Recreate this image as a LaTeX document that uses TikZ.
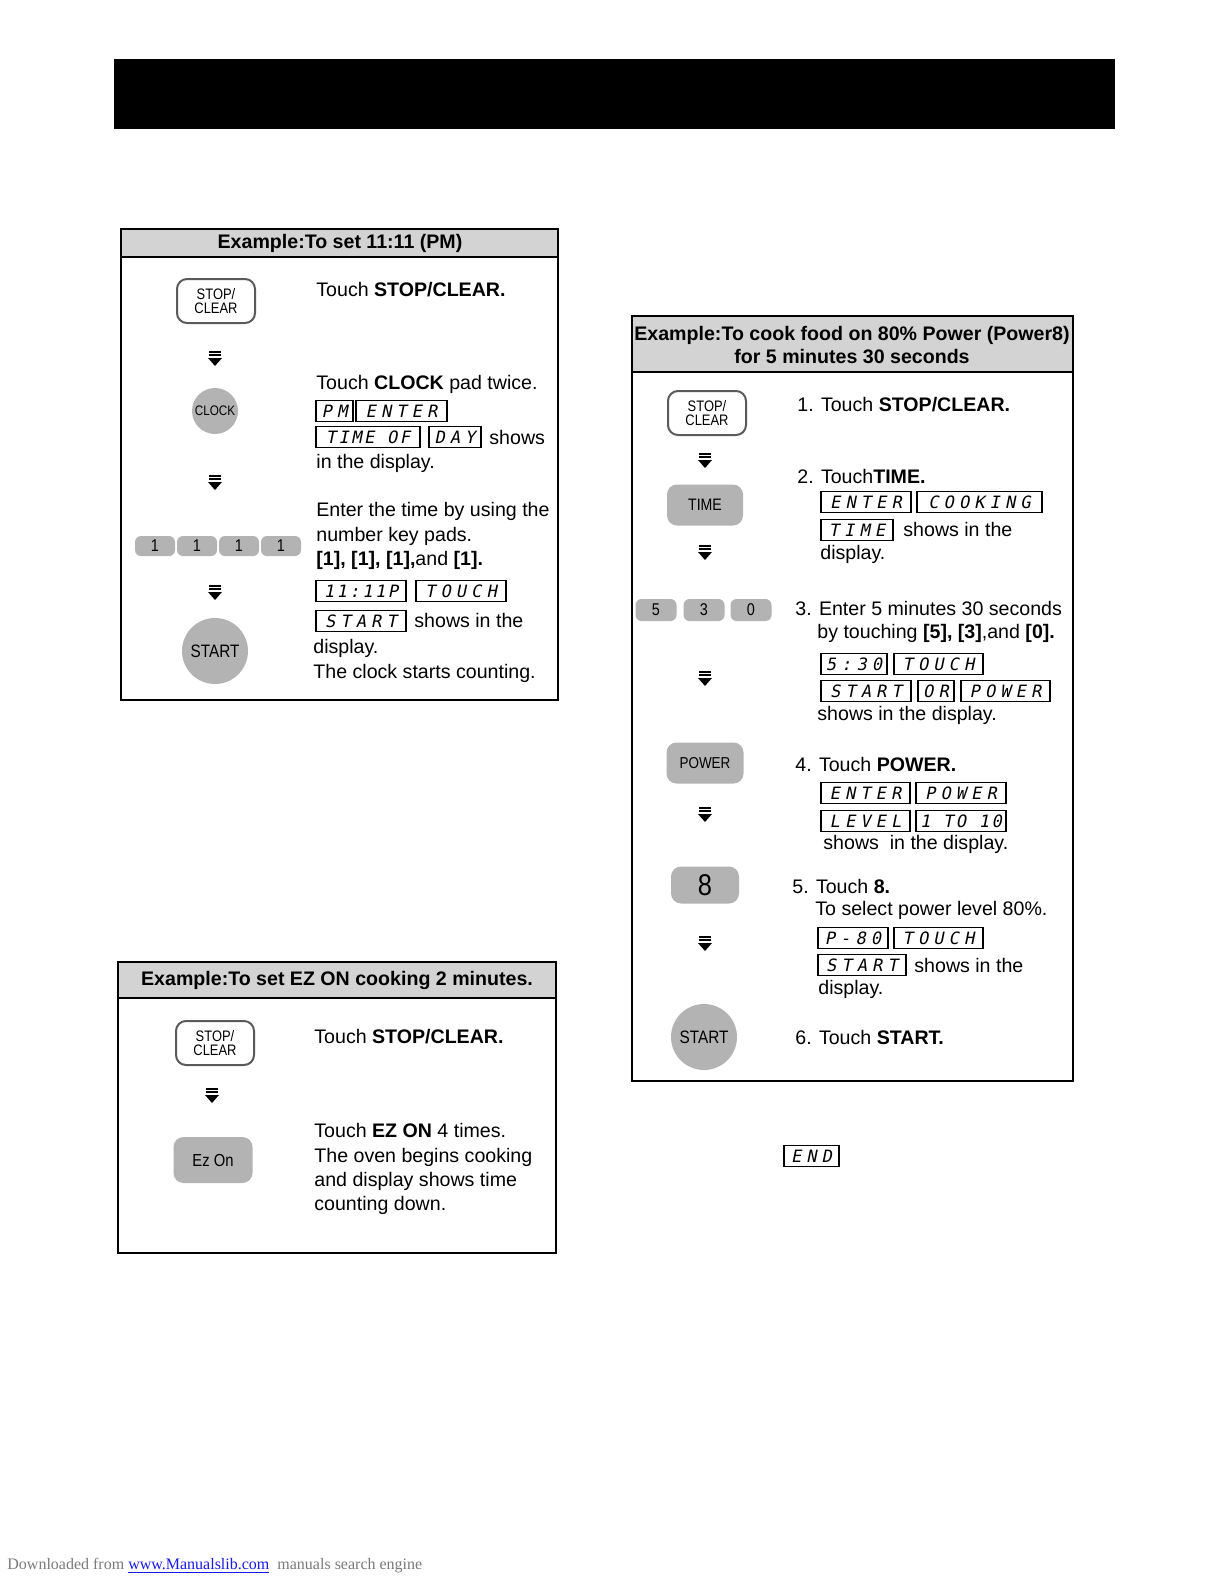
\documentclass[tikz,border=0pt]{standalone}
\usepackage{fontspec}
\setmainfont{Liberation Sans}
\newfontfamily\keyfont[FakeStretch=0.85]{Liberation Sans}
\newfontfamily\lcdfont[FakeSlant=0.2,LetterSpace=30]{DejaVu Sans Mono}
\newfontfamily\lcdtight[FakeSlant=0.2,LetterSpace=15]{DejaVu Sans Mono}
\newfontfamily\footfont{Liberation Serif}
\usepackage{xcolor}
\usetikzlibrary{positioning, shapes.geometric, calc}
\definecolor{keygray}{HTML}{B3B3B3}
\definecolor{headgray}{HTML}{D3D3D3}
\definecolor{keyedge}{HTML}{5A5A5A}
\definecolor{footgray}{HTML}{7A7A7A}
\definecolor{linkblue}{HTML}{1A1AE6}

\begin{document}
\begin{tikzpicture}[
  x=0.5pt, y=-0.5pt,
  font=\fontsize{9.8}{12.2}\selectfont,
  txt/.style={anchor=west, inner sep=0pt},
  para/.style={anchor=north west, inner sep=0pt, align=left},
  title/.style={font=\fontsize{9.8}{11.6}\selectfont\bfseries, align=center, inner sep=0pt},
  lcd/.style={draw, line width=0.8pt, inner sep=0pt, minimum height=10.5pt,
              font=\fontsize{8.5}{8.5}\selectfont},
  stopkey/.style={draw=keyedge, line width=1pt, fill=white, rounded corners=5pt,
                  minimum width=39pt, minimum height=22pt, inner sep=0pt, align=center,
                  font={\keyfont\fontsize{7.6}{7.4}\selectfont}},
  padkey/.style={fill=keygray, rounded corners=5pt, inner sep=0pt,
                 font={\keyfont\fontsize{8.5}{8.5}\selectfont}},
  roundkey/.style={circle, fill=keygray, inner sep=0pt,
                   font={\keyfont\fontsize{8.5}{8.5}\selectfont}},
]
\useasboundingbox (0,0) rectangle (1225,1585);
\fill[white] (0,0) rectangle (1225,1585);

% Page header bar
\fill[black] (114,59) rectangle (1115,129);

% Example boxes
\draw[line width=0.6pt] (121,229) rectangle (558,700);
\draw[line width=0.6pt, fill=headgray] (121,229) rectangle (558,257);
\draw[line width=0.6pt] (632,316) rectangle (1073,1081);
\draw[line width=0.6pt, fill=headgray] (632,316) rectangle (1073,372);
\draw[line width=0.6pt] (118,962) rectangle (556,1253);
\draw[line width=0.6pt, fill=headgray] (118,962) rectangle (556,998);
\node[title] (headA) at (340,243) {Example:To set 11:11 (PM)};
\node[title] (headB) at (852,345) {Example:To cook food on 80\% Power (Power8)\\for 5 minutes 30 seconds};
\node[title] (headC) at (337,980) {Example:To set EZ ON cooking 2 minutes.};

% Keys
\node[stopkey] (stopA) at (216,301) {STOP/\\CLEAR};
\node[roundkey, minimum size=23pt, font={\keyfont\fontsize{6.9}{6.9}\selectfont}] (clockA) at (215,411) {CLOCK};
\foreach \x [count=\i] in {155,197,239,281}{
  \node[padkey, rounded corners=3pt, minimum width=20pt, minimum height=10pt] (oneA\i) at (\x,546) {1};
}
\node[roundkey, minimum size=33pt, font={\keyfont\fontsize{9}{9}\selectfont}] (startA) at (215,651) {START};

\node[stopkey] (stopB) at (707,413) {STOP/\\CLEAR};
\node[padkey, minimum width=38pt, minimum height=20.5pt, font={\keyfont\fontsize{8.3}{8.3}\selectfont}] (timeB) at (705,505) {TIME};
\foreach \x/\n [count=\i] in {656/5, 704/3, 751/0}{
  \node[padkey, rounded corners=3pt, minimum width=20.5pt, minimum height=11pt] (numB\i) at (\x,610) {\n};
}
\node[padkey, minimum width=38.5pt, minimum height=20.5pt, font={\keyfont\fontsize{7.9}{7.9}\selectfont}] (powerB) at (705,763) {POWER};
\node[padkey, minimum width=34pt, minimum height=18.5pt, font={\keyfont\fontsize{15}{15}\selectfont}] (eightB) at (705,885) {8};
\node[roundkey, minimum size=33pt, font={\keyfont\fontsize{9}{9}\selectfont}] (startB) at (704,1037) {START};

\node[stopkey] (stopC) at (215,1043) {STOP/\\CLEAR};
\node[padkey, minimum width=39.5pt, minimum height=23pt, font={\keyfont\fontsize{8.7}{8.7}\selectfont}] (ezonC) at (213,1160) {Ez On};

% Step marks
\foreach \x/\y in {215/359, 215/483, 215/593, 705/461, 705/553, 705/679, 705/815, 705/944, 212/1096}{
  \draw[line width=0.8pt] (\x-6,\y-7) -- (\x+6,\y-7) (\x-6,\y-4) -- (\x+6,\y-4);
  \fill (\x-7,\y-1) -- (\x+7,\y-1) -- (\x,\y+7) -- cycle;
}

% Displays: left/right/y/text/font
\foreach \xa/\xb/\y/\t/\f [count=\i] in {
  316/353/411/PM/\lcdfont, 356/447/411/ENTER/\lcdfont,
  316/420/437/TIME OF/\lcdtight, 429/481/437/DAY/\lcdfont,
  316/406/591/11:11P/\lcdtight, 416/506/591/TOUCH/\lcdfont,
  316/406/621/START/\lcdfont,
  821/911/502/ENTER/\lcdfont, 917/1042/502/COOKING/\lcdfont,
  821/893/530/TIME/\lcdfont,
  821/887/664/5:30/\lcdfont, 894/983/664/TOUCH/\lcdfont,
  821/911/691/START/\lcdfont, 918/954/691/OR/\lcdfont, 961/1050/691/POWER/\lcdfont,
  821/910/793/ENTER/\lcdfont, 916/1006/793/POWER/\lcdfont,
  821/910/821/LEVEL/\lcdfont, 916/1006/821/1 TO 10/\lcdtight,
  818/888/938/P-80/\lcdfont, 894/983/938/TOUCH/\lcdfont,
  818/906/965/START/\lcdfont,
  784/839/1156/END/\lcdfont%
}{
  \pgfmathsetmacro{\w}{(\xb-\xa)*0.5}
  \node[lcd, minimum width=\w pt] (disp\i) at ({(\xa+\xb)/2},\y) {\f\t};
}

% Texts, box A
\node[txt] (tA1) at (316,290) {Touch \textbf{STOP/CLEAR.}};
\node[txt] (tA2) at (316,384) {Touch \textbf{CLOCK} pad twice.};
\node[txt] (tA3) at (489,437) {shows};
\node[txt] (tA4) at (316,463) {in the display.};
\node[para] (tA5) at (316,502) {Enter the time by using the\\number key pads.\\\textbf{[1], [1], [1],}and \textbf{[1].}};
\node[txt] (tA6) at (414,620) {shows in the};
\node[para] (tA7) at (313,639) {display.\\The clock starts counting.};

% Texts, box B
\node[txt] (tB1) at (797,405) {1. Touch \textbf{STOP/CLEAR.}};
\node[txt] (tB2) at (797,476) {2. Touch\textbf{TIME.}};
\node[txt] (tB3) at (903,529) {shows in the};
\node[txt] (tB4) at (820,554) {display.};
\node[txt] (tB5) at (795,608) {3. Enter 5 minutes 30 seconds};
\node[txt] (tB6) at (817,633) {by touching \textbf{[5], [3]},and \textbf{[0].}};
\node[txt] (tB7) at (817,715) {shows in the display.};
\node[txt] (tB8) at (795,764) {4. Touch \textbf{POWER.}};
\node[txt] (tB9) at (823,844) {shows\ \ in the display.};
\node[txt] (tB10) at (792,886) {5. Touch \textbf{8.}};
\node[txt] (tB11) at (815,910) {To select power level 80\%.};
\node[txt] (tB12) at (914,965) {shows in the};
\node[txt] (tB13) at (818,989) {display.};
\node[txt] (tB14) at (795,1037) {6. Touch \textbf{START.}};

% Texts, box C
\node[txt] (tC1) at (314,1037) {Touch \textbf{STOP/CLEAR.}};
\node[para] (tC2) at (314,1123) {Touch \textbf{EZ ON} 4 times.\\The oven begins cooking\\and display shows time\\counting down.};

% Footer
\node[anchor=west, inner sep=0pt, text=footgray, font={\footfont\fontsize{8}{8}\selectfont}] (foot) at (7,1566)
  {Downloaded from \textcolor{linkblue}{\underline{www.Manualslib.com}}\ \ manuals search engine};
\end{tikzpicture}
\end{document}
